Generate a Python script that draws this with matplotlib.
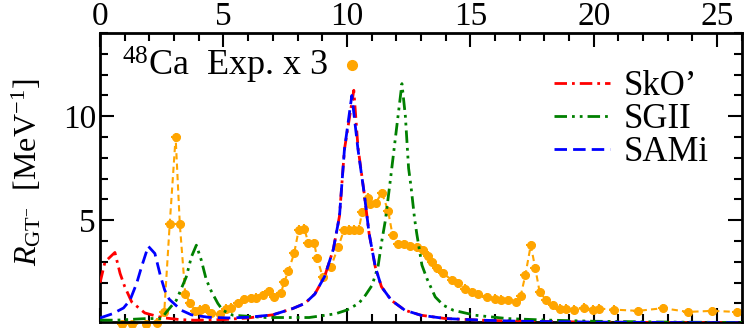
import matplotlib
matplotlib.use("Agg")
import matplotlib.pyplot as plt
from matplotlib.ticker import MultipleLocator
from matplotlib.lines import Line2D

plt.rcParams['font.family'] = ['Liberation Serif', 'DejaVu Serif']
plt.rcParams['mathtext.fontset'] = 'custom'
plt.rcParams['mathtext.rm'] = 'Liberation Serif'
plt.rcParams['mathtext.it'] = 'Liberation Serif:italic'

# ---- experimental data (48Ca, x3) ----
exp_E = [0.87, 1.3, 1.88, 2.3, 2.6, 2.82, 3.06, 3.23, 3.45, 3.65, 3.85, 4.05, 4.25,
         4.5, 4.84, 5.1, 5.31, 5.58, 5.85, 6.12, 6.32, 6.59, 6.85, 7.06, 7.33, 7.46,
         7.63, 7.86, 8.05, 8.27, 8.44, 8.67, 8.8, 9.02, 9.35, 9.65, 9.88, 10.08,
         10.28, 10.48, 10.62, 10.86, 10.95, 11.16, 11.42, 11.67, 11.85, 12.07, 12.3,
         12.57, 12.83, 13.1, 13.3, 13.44, 13.64, 13.91, 14.25, 14.52, 14.78, 15.05,
         15.32, 15.66, 16.0, 16.26, 16.53, 16.87, 17.04, 17.23, 17.45, 17.63, 17.81,
         18.08, 18.35, 18.62, 18.88, 19.22, 19.62, 19.96, 20.23, 20.83, 21.8, 22.81,
         23.82, 24.8, 25.8]
exp_R = [0.02, 0.02, 0.02, 0.08, 0.6, 4.8, 9.0, 4.8, 1.47, 1.0, 0.62, 0.7, 0.76,
         0.52, 0.5, 0.75, 0.8, 1.03, 1.19, 1.25, 1.28, 1.39, 1.6, 1.31, 1.5, 2.03,
         2.56, 3.4, 4.55, 4.6, 3.91, 3.91, 3.16, 2.27, 2.75, 3.72, 4.52, 4.55,
         4.55, 4.55, 5.4, 6.09, 5.8, 5.83, 6.31, 5.45, 4.28, 3.85, 3.85,
         3.75, 3.69, 3.56, 3.3, 3.0, 2.68, 2.44, 2.12, 1.96, 1.71, 1.55,
         1.44, 1.31, 1.23, 1.18, 1.15, 1.07, 1.35, 2.36, 3.8, 2.71, 1.55,
         1.15, 0.91, 0.75, 0.75, 0.7, 0.8, 0.7, 0.75, 0.7, 0.64, 0.77,
         0.59, 0.64, 0.59]

# ---- SkO' ----
sko_E = [0.0, 0.2, 0.6, 0.81, 1.0, 1.28, 1.81, 2.49, 3.23, 3.83, 5.0, 6.0, 7.0, 7.8,
         8.3, 8.7, 9.1, 9.45, 9.7, 9.9, 10.28, 10.45, 10.7, 10.9, 11.15, 11.4, 11.8,
         12.35, 13.0, 14.0, 15.5, 17.0, 20.0, 23.0, 26.0]
sko_R = [2.0, 3.0, 3.45, 2.44, 1.8, 1.07, 0.54, 0.32, 0.22, 0.19, 0.22, 0.3, 0.45, 0.75,
         1.0, 1.45, 2.3, 3.6, 5.2, 8.4, 11.25, 8.5, 6.3, 4.36, 2.76, 1.8, 1.15,
         0.67, 0.43, 0.27, 0.19, 0.14, 0.1, 0.08, 0.07]

# ---- SGII ----
sg2_E = [0.0, 0.6, 1.88, 2.49, 2.69, 3.09, 3.49, 3.7, 3.9, 4.1, 4.3, 4.5, 4.77, 4.97,
         5.38, 6.72, 8.47, 9.54, 10.0, 10.48, 10.75, 11.02, 11.26, 11.42, 11.56, 11.76,
         12.0, 12.23, 12.37, 12.5, 12.6, 12.74, 12.83, 13.04, 13.24, 13.58, 13.91,
         14.31, 15.19, 16.5, 18.0, 20.0, 23.0, 26.0]
sg2_R = [0.2, 0.19, 0.27, 0.27, 0.59, 1.15, 2.27, 3.24, 3.8, 3.08, 2.15, 1.6, 1.0, 0.67,
         0.43, 0.32, 0.32, 0.5, 0.68, 1.0, 1.39, 1.87, 2.76, 4.04, 5.0, 6.92,
         9.3, 11.57, 10.0, 7.5, 6.6, 5.1, 4.36, 2.84, 2.2, 1.31, 0.91,
         0.67, 0.43, 0.27, 0.2, 0.14, 0.1, 0.08]

# ---- SAMi ----
sam_E = [0.0, 0.5, 0.95, 1.21, 1.48, 1.68, 1.95, 2.22, 2.45, 2.62, 2.8, 3.29, 3.7, 4.4,
         5.2, 6.0, 7.0, 7.8, 8.3, 8.7, 9.1, 9.45, 9.7, 9.9, 10.2, 10.45, 10.7, 10.9,
         11.15, 11.4, 11.8, 12.35, 13.0, 14.0, 15.5, 17.0, 20.0, 23.0, 26.0]
sam_R = [0.3, 0.5, 0.78, 1.15, 1.96, 2.76, 3.75, 3.4, 2.3, 1.63, 1.2, 0.67, 0.45, 0.33,
         0.3, 0.33, 0.45, 0.75, 1.0, 1.45, 2.3, 3.6, 5.2, 8.4, 11.0, 8.4, 6.3, 4.36,
         2.76, 1.8, 1.15, 0.67, 0.43, 0.27, 0.19, 0.14, 0.1, 0.08, 0.07]

labels = ["SkO\u2019", "SGII", "SAMi"]
xticks = [0, 5, 10, 15, 20, 25]
yticks = [5, 10]

ORANGE = '#FFA500'
RED = '#FF0000'
GREEN = '#008000'
BLUE = '#0000FF'

fig = plt.figure(figsize=(7.47, 3.28), dpi=100)
ax = fig.add_axes([0.134, 0.018, 0.859, 0.881])

ax.errorbar(exp_E, exp_R, xerr=0.2, yerr=0.2, fmt='o', color=ORANGE, ms=5.5,
            elinewidth=1.5, capsize=0, ls=(0, (3, 2)), lw=1.5, clip_on=False, zorder=2)

ls_red = (0, (4.5, 1.8, 1.0, 1.8))
ls_green = (0, (4.5, 1.8, 1.0, 1.8, 1.0, 1.8))
ls_blue = (0, (4.5, 2.2))
ax.plot(sko_E, sko_R, color=RED, lw=2, ls=ls_red, zorder=3)
ax.plot(sg2_E, sg2_R, color=GREEN, lw=2, ls=ls_green, zorder=3)
ax.plot(sam_E, sam_R, color=BLUE, lw=2, ls=ls_blue, zorder=4)

ax.set_xlim(0, 26)
ax.set_ylim(0.1, 14)
ax.set_xticks(xticks)
ax.set_yticks(yticks)
ax.xaxis.set_minor_locator(MultipleLocator(1))
ax.yaxis.set_minor_locator(MultipleLocator(1))
ax.tick_params(axis='both', which='both', direction='in', top=True, bottom=True,
               left=True, right=True, labeltop=True, labelbottom=False, labelsize=24)
ax.tick_params(which='major', length=10, width=1.5)
ax.tick_params(which='minor', length=6, width=1.5)
ax.tick_params(axis='x', pad=1)
ax.tick_params(axis='y', pad=3)
for s in ax.spines.values():
    s.set_linewidth(2)

ax.set_ylabel(r"$R_{\rm GT^{-}}$  [MeV$^{-1}$]", fontsize=23)
ax.yaxis.set_label_coords(-0.088, 0.52)

ax.text(0.9, 12.45, r"$^{48}$Ca  Exp. x 3", fontsize=26, va='center', ha='left')
ax.plot([10.2], [12.45], 'o', color=ORANGE, ms=7)

handles = [Line2D([], [], color=RED, lw=2, ls=ls_red),
           Line2D([], [], color=GREEN, lw=2, ls=ls_green),
           Line2D([], [], color=BLUE, lw=2, ls=ls_blue)]
ax.legend(handles, labels, loc='upper right', frameon=False, fontsize=25,
          handlelength=1.6, handletextpad=0.4, labelspacing=0.0,
          bbox_to_anchor=(0.97, 0.92), borderaxespad=0)

fig.savefig("out.png", dpi=100)
